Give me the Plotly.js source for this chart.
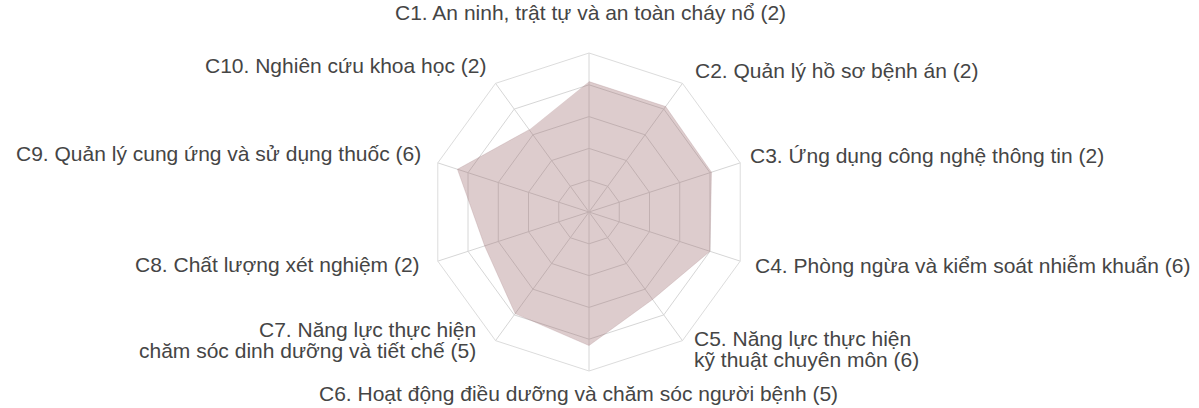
<!DOCTYPE html>
<html>
<head>
<meta charset="utf-8">
<script src="https://cdn.plot.ly/plotly-3.0.1.min.js"></script>
<style>
html, body { margin: 0; padding: 0; background: #ffffff; }
#chart { width: 1199px; height: 408px; }
</style>
</head>
<body>
<div id="chart"></div>
<script>
// ---- data ----
const categories = ["C1", "C2", "C3", "C4", "C5", "C6", "C7", "C8", "C9", "C10"];
const labels = [
  "C1. An ninh, trật tự và an toàn cháy nổ (2)",
  "C2. Quản lý hồ sơ bệnh án (2)",
  "C3. Ứng dụng công nghệ thông tin (2)",
  "C4. Phòng ngừa và kiểm soát nhiễm khuẩn (6)",
  "C5. Năng lực thực hiện<br>kỹ thuật chuyên môn (6)",
  "C6. Hoạt động điều dưỡng và chăm sóc người bệnh (5)",
  "C7. Năng lực thực hiện<br>chăm sóc dinh dưỡng và tiết chế (5)",
  "C8. Chất lượng xét nghiệm (2)",
  "C9. Quản lý cung ứng và sử dụng thuốc (6)",
  "C10. Nghiên cứu khoa học (2)"
];
const scores = [4.1, 4.1, 4.05, 4.0, 3.4, 4.2, 3.95, 3.45, 4.35, 3.2];
const radialMax = 5;

// ---- layout helpers (label placement, in page pixels) ----
const W = 1199, H = 408;
const labelPlacement = [
  { x: 590, y: 12,  anchor: "center" },
  { x: 693, y: 70,  anchor: "left" },
  { x: 748, y: 155, anchor: "left" },
  { x: 753, y: 265, anchor: "left" },
  { x: 692, y: 338, anchor: "left" },
  { x: 578, y: 393, anchor: "center" },
  { x: 478, y: 329, anchor: "right" },
  { x: 422, y: 264, anchor: "right" },
  { x: 423, y: 153, anchor: "right" },
  { x: 488, y: 66,  anchor: "right" }
];
const lineGap = 21;
const labelFont = { family: "Liberation Sans, Arial, sans-serif", size: 21, color: "#454545" };

const annotations = [];
labels.forEach((lab, i) => {
  const p = labelPlacement[i];
  lab.split("<br>").forEach((line, k) => {
    annotations.push({
      xref: "paper", yref: "paper",
      x: p.x / W, y: 1 - (p.y + k * lineGap) / H,
      xanchor: p.anchor, yanchor: "middle",
      text: line, showarrow: false,
      font: labelFont
    });
  });
});

const cx = 589, cy = 212, R = 159;

const trace = {
  type: "scatterpolar",
  r: scores,
  theta: categories,
  mode: "lines",
  fill: "toself",
  fillcolor: "rgba(155,105,108,0.34)",
  line: { color: "rgba(170,135,138,0.5)", width: 0.5 },
  hoverinfo: "skip"
};

const layout = {
  width: W,
  height: H,
  margin: { l: 0, r: 0, t: 0, b: 0 },
  paper_bgcolor: "#ffffff",
  plot_bgcolor: "#ffffff",
  showlegend: false,
  font: labelFont,
  annotations: annotations,
  polar: {
    bgcolor: "rgba(0,0,0,0)",
    gridshape: "linear",
    domain: { x: [(cx - R) / W, (cx + R) / W], y: [(H - cy - R) / H, (H - cy + R) / H] },
    radialaxis: {
      range: [0, radialMax],
      dtick: 1,
      showticklabels: false,
      ticks: "",
      showline: false,
      gridcolor: "#d6d6d6",
      gridwidth: 1,
      layer: "below traces"
    },
    angularaxis: {
      type: "category",
      categoryarray: categories,
      direction: "clockwise",
      rotation: 90,
      showticklabels: false,
      ticks: "",
      showline: true,
      linecolor: "#dcdcdc",
      linewidth: 1,
      gridcolor: "#d6d6d6",
      gridwidth: 1,
      layer: "below traces"
    }
  }
};

Plotly.newPlot("chart", [trace], layout, { staticPlot: true, displayModeBar: false });
</script>
</body>
</html>
